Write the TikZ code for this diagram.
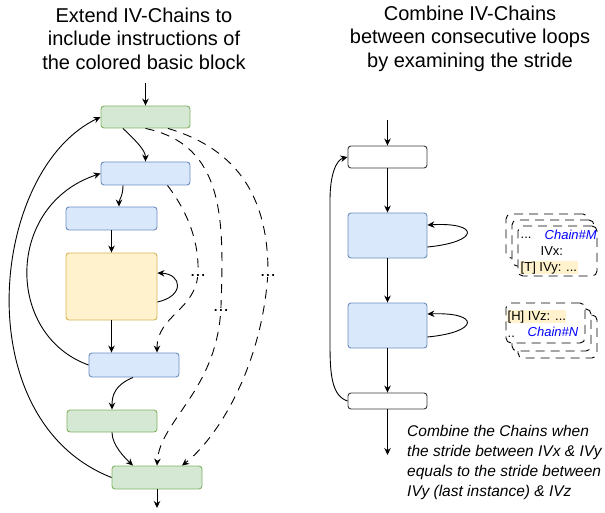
\documentclass[tikz,border=0pt]{standalone}
\usepackage{fontspec}
\setmainfont{Liberation Sans}
\usetikzlibrary{arrows.meta}
\definecolor{gfill}{HTML}{D5E8D4}
\definecolor{gline}{HTML}{82B366}
\definecolor{bfill}{HTML}{DAE8FC}
\definecolor{bline}{HTML}{6C8EBF}
\definecolor{yfill}{HTML}{FFF2CC}
\definecolor{yline}{HTML}{D6B656}
\definecolor{wline}{HTML}{36393D}
\definecolor{chainblue}{HTML}{0000FF}
\begin{document}
\begin{tikzpicture}[x=1pt,y=-1pt,
  box/.style={draw, rounded corners=3pt, line width=0.9pt, inner sep=0pt},
  gbox/.style={box, fill=gfill, draw=gline},
  bbox/.style={box, fill=bfill, draw=bline},
  ybox/.style={box, fill=yfill, draw=yline},
  wbox/.style={box, fill=white, draw=wline},
  arr/.style={line width=0.9pt, -{Stealth[length=7pt,width=6.5pt]}},
  dsh/.style={arr, dash pattern=on 9pt off 7pt},
  dotlabel/.style={fill=white, inner sep=1pt, font=\fontsize{19}{19}\selectfont},
  crect/.style={draw, fill=white, rounded corners=5pt, line width=0.9pt, dash pattern=on 9pt off 6pt},
  ctext/.style={font=\fontsize{13}{13}\selectfont, inner sep=0.5pt},
  title/.style={align=center, font=\fontsize{20}{23.5}\selectfont, inner sep=0pt}
]
\useasboundingbox (0,0) rectangle (605,513);

% titles
\node[title] (t1) at (144,38.5) {Extend IV-Chains to\\include instructions of\\the colored basic block};
\node[title] (t2) at (470,38.5) {Combine IV-Chains\\between consecutive loops\\by examining the stride};

% left boxes
\node[gbox, minimum width=89pt, minimum height=22pt] (A) at (145.5,117) {};
\node[bbox, minimum width=89pt, minimum height=23pt] (B) at (145.5,173.5) {};
\node[bbox, minimum width=91pt, minimum height=23pt] (C) at (111.5,218.5) {};
\node[ybox, minimum width=91pt, minimum height=67pt] (D) at (111.5,286.5) {};
\node[bbox, minimum width=90pt, minimum height=24pt] (E) at (134,365) {};
\node[gbox, minimum width=90pt, minimum height=22pt] (F) at (112,421) {};
\node[gbox, minimum width=90pt, minimum height=23pt] (G) at (157,477.5) {};
\coordinate (ain) at (145.5,83);
\coordinate (gout) at (157,508);

% left solid edges
\draw[arr] (ain) -- (A.north);
\draw[arr] ([xshift=-22.5pt]A.south) .. controls (135,140) and (145.5,150) .. (B.north);
\draw[arr] ([xshift=-22.5pt]B.south) .. controls (123,196) and (119,200) .. ([xshift=7.5pt]C.north);
\draw[arr] (C.south) -- (D.north);
\draw[arr] ([yshift=-15.5pt]D.east) .. controls (185,296) and (182,274) .. ([yshift=13.5pt]D.east);
\draw[arr] (D.south) -- (D.south |- E.north);
\draw[arr] ([xshift=-1pt]E.south) .. controls (115,385) and (112,395) .. (F.north);
\draw[arr] (F.south) .. controls (112,445) and (125,458) .. ([xshift=-24pt]G.north);
\draw[arr] (G.south) -- (gout);
\draw[arr] (E.west) .. controls (5,335) and (5,205) .. (B.west);
\draw[arr] (G.west) .. controls (-35,420) and (-10,170) .. (A.west);

% left dashed edges
\coordinate (p1) at (198,272);
\coordinate (p2) at (221,306);
\coordinate (p3) at (268,272);
\draw[dsh] ([xshift=22pt]B.south) .. controls (190,215) and (199,245) .. (p1)
  .. controls (197,310) and (157,315) .. ([xshift=23pt]E.north);
\draw[dsh] (A.south) .. controls (225,145) and (224,220) .. (p2)
  .. controls (218,390) and (160,420) .. (G.north);
\draw[dsh] ([xshift=22.5pt]A.south) .. controls (240,150) and (268,200) .. (p3)
  .. controls (262,370) and (215,440) .. ([xshift=25pt]G.north);
\node[dotlabel, anchor=base] (l1) at (198,276) {...};
\node[dotlabel, anchor=base] (l2) at (221,311) {...};
\node[dotlabel, anchor=base] (l3) at (268,276) {...};

% right boxes
\node[wbox, minimum width=79pt, minimum height=22pt] (H) at (387.5,157) {};
\node[bbox, minimum width=79pt, minimum height=45pt] (I) at (387.5,235.5) {};
\node[bbox, minimum width=79pt, minimum height=45pt] (J) at (387.5,325.5) {};
\node[wbox, minimum width=79pt, minimum height=16pt] (K) at (387.5,401) {};
\coordinate (hin) at (387.5,120);
\coordinate (kout) at (387.5,455);

\draw[arr] (hin) -- (H.north);
\draw[arr] (H.south) -- (I.north);
\draw[arr] (I.south) -- (J.north);
\draw[arr] (J.south) -- (K.north);
\draw[arr] (K.south) -- (kout);
\draw[arr] ([yshift=-11.5pt]I.east) .. controls (480,242) and (480,222) .. ([yshift=10.5pt]I.east);
\draw[arr] ([yshift=-11.5pt]J.east) .. controls (480,332) and (480,312) .. ([yshift=11.5pt]J.east);
\draw[arr] (K.west) .. controls (332,396) and (330,375) .. (330,345) -- (330,200)
  .. controls (330,175) and (336,160) .. (H.west);

% chain M stack
\node[crect, minimum width=82pt, minimum height=44pt] (m1) at (547,236) {};
\node[crect, minimum width=82pt, minimum height=46pt] (m2) at (553,243) {};
\node[crect, minimum width=79pt, minimum height=50pt] (m3) at (557.5,251) {};
\node[ctext, anchor=base west] (mdots) at (520,238) {...};
\node[ctext, anchor=base west, text=chainblue, font=\fontsize{13}{13}\selectfont\itshape] (mlab) at (544,240) {Chain\#M};
\node[ctext, anchor=base west] (ivx) at (540,255) {IVx:};
\node[ctext, anchor=base west, fill=yfill] (ivy) at (520,271) {[T] IVy: ...};

% chain N stack
\node[crect, minimum width=79pt, minimum height=43pt] (n3) at (557.5,336.5) {};
\node[crect, minimum width=79pt, minimum height=42pt] (n2) at (551.5,330) {};
\node[crect, minimum width=79pt, minimum height=40pt] (n1) at (545.5,323) {};
\node[ctext, anchor=base west, fill=yfill] (ivz) at (507,320) {[H] IVz: ...};
\node[ctext, anchor=base west, text=chainblue, font=\fontsize{13}{13}\selectfont\itshape] (nlab) at (527,336) {Chain\#N};
\node[ctext, anchor=base west] (ndots) at (507,337) {..};

% note
\node[anchor=west, align=left, inner sep=0pt, font=\fontsize{15.5}{20}\selectfont\itshape] (note) at (407,462)
  {Combine the Chains when\\the stride between IVx \& IVy\\equals to the stride between\\IVy (last instance) \& IVz};
\end{tikzpicture}
\end{document}
